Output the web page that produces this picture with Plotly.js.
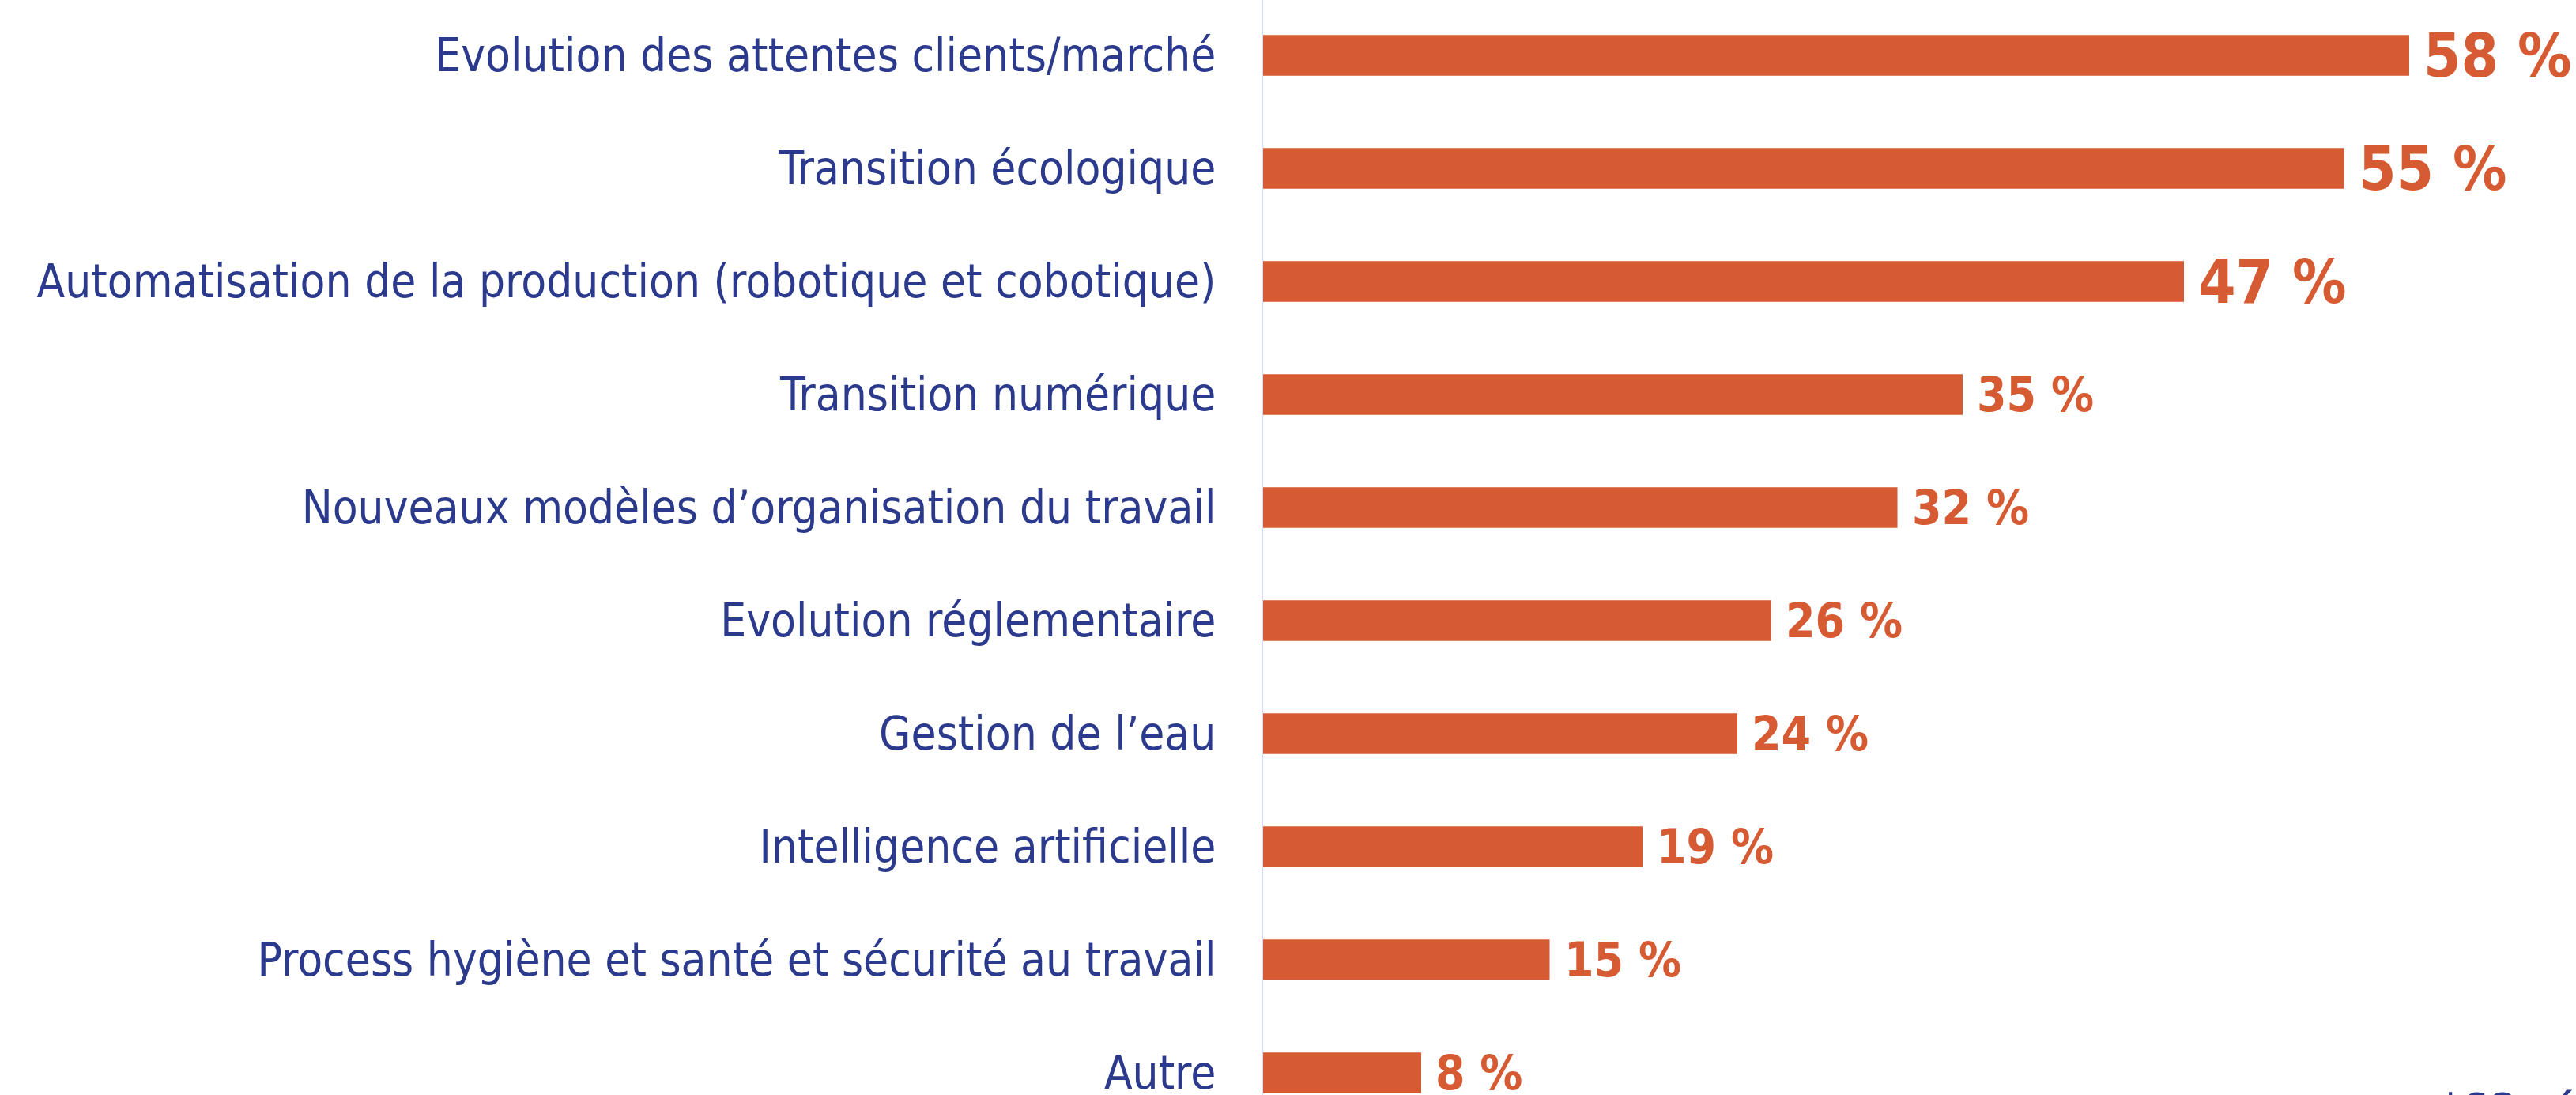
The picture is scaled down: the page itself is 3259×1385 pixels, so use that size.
<!DOCTYPE html>
<html>
<head>
<meta charset="utf-8">
<script src="https://cdn.plot.ly/plotly-3.0.1.min.js"></script>
<style>
  html, body { margin: 0; padding: 0; background: #ffffff; }
  #chart { width: 3259px; height: 1385px; }
</style>
</head>
<body>
<div id="chart"></div>
<script>
// ---- Data ----
const categories = [
  "Evolution des attentes clients/marché",
  "Transition écologique",
  "Automatisation de la production (robotique et cobotique)",
  "Transition numérique",
  "Nouveaux modèles d’organisation du travail",
  "Evolution réglementaire",
  "Gestion de l’eau",
  "Intelligence artificielle",
  "Process hygiène et santé et sécurité au travail",
  "Autre"
];
const values = [58, 54.7, 46.6, 35.4, 32.1, 25.7, 24.0, 19.2, 14.5, 8.0];
const valueLabels = ["58 %", "55 %", "47 %", "35 %", "32 %", "26 %", "24 %", "19 %", "15 %", "8 %"];
const highlighted = [true, true, true, false, false, false, false, false, false, false];
const footnote = "*68 répondants";

// ---- Styles ----
const LABEL_FONT = "'DejaVu Sans Condensed', 'DejaVu Sans', sans-serif";
const BLUE = "#2B3A8C";
const ORANGE = "#D65A32";

const trace = {
  type: "bar",
  orientation: "h",
  y: categories,
  x: values,
  width: 0.36,
  marker: { color: ORANGE, line: { width: 0 } },
  hoverinfo: "none"
};

const annotations = categories.map((c, i) => ({
  xref: "x", yref: "y",
  x: values[i], y: c,
  text: valueLabels[i],
  showarrow: false,
  xanchor: "left", yanchor: "middle",
  xshift: 16,
  font: { family: LABEL_FONT, size: highlighted[i] ? 76 : 60, color: ORANGE, weight: "bold" }
}));

annotations.push({
  xref: "paper", yref: "paper",
  x: 0.895, y: 0.012,
  xanchor: "left", yanchor: "top",
  text: footnote,
  showarrow: false,
  font: { family: LABEL_FONT, size: 56, color: BLUE, weight: "bold" }
});

const layout = {
  width: 3259,
  height: 1385,
  margin: { l: 1598, r: 0, t: 0, b: 0, pad: 0 },
  paper_bgcolor: "#ffffff",
  plot_bgcolor: "#ffffff",
  showlegend: false,
  xaxis: {
    range: [0, 66.44],
    showgrid: false, zeroline: false, showticklabels: false, showline: false, ticks: ""
  },
  yaxis: {
    type: "category",
    categoryorder: "array",
    categoryarray: categories,
    range: [9.196, -0.49],
    showgrid: false, zeroline: false,
    showline: true, linecolor: "#D8DCF3", linewidth: 2,
    ticks: "",
    ticklabelstandoff: 46,
    tickfont: { family: LABEL_FONT, size: 58, color: BLUE }
  },
  annotations: annotations
};

Plotly.newPlot("chart", [trace], layout, { displayModeBar: false, staticPlot: true });
</script>
</body>
</html>
